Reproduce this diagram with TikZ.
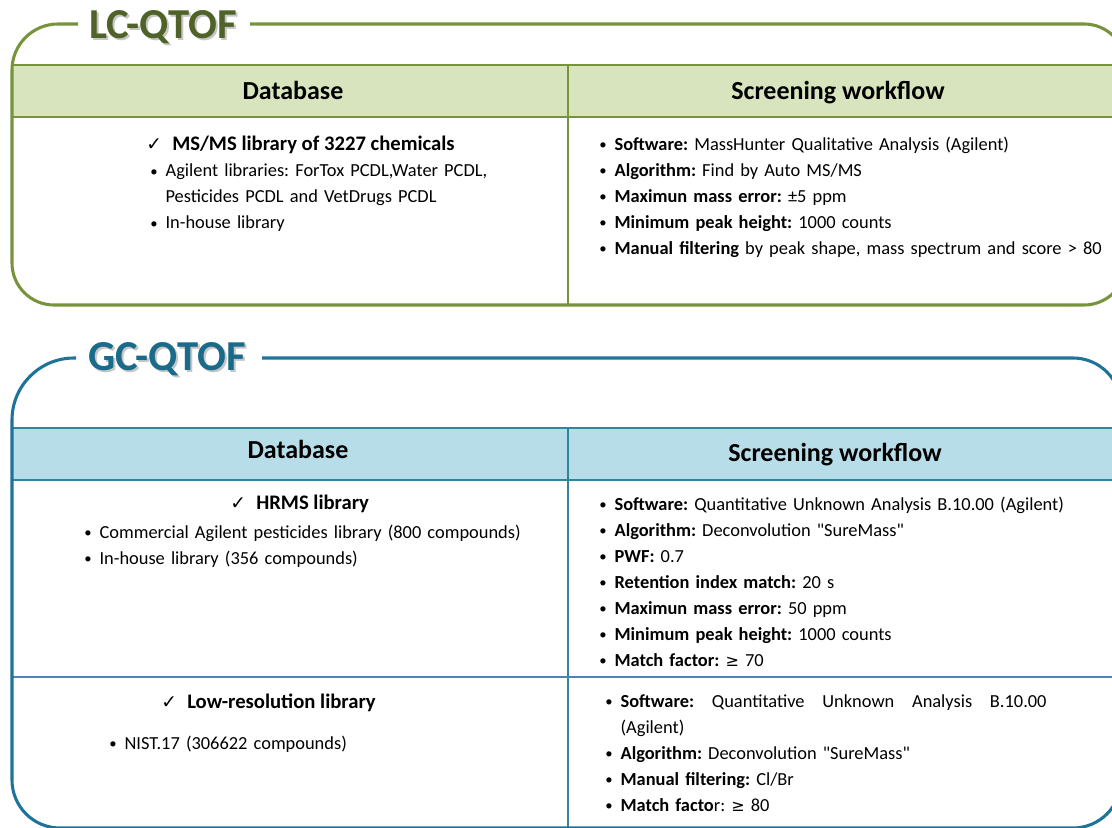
\documentclass[tikz,border=0pt]{standalone}
\usepackage{fontspec}
\setmainfont{Carlito}
\newfontfamily\symfont{DejaVu Sans}
\usetikzlibrary{positioning}
\frenchspacing

\definecolor{lcline}{HTML}{77933C}
\definecolor{lctitle}{HTML}{4F6228}
\definecolor{lchead}{HTML}{D7E4BD}
\definecolor{gcline}{HTML}{1D7399}
\definecolor{gctitle}{HTML}{1A6A8A}
\definecolor{gchead}{HTML}{B7DDE8}
\definecolor{gcrule}{HTML}{31849B}
\definecolor{gcsep}{HTML}{4F81BD}

\newcommand{\bul}{\makebox[11.5pt][l]{\raisebox{0.5pt}{\scalebox{0.8}{\textbullet}}}}
\newcommand{\chk}{\makebox[19.5pt][l]{\symfont\mdseries\fontsize{14}{16}\selectfont ✓}}
\newcommand{\geqs}{{\symfont\fontsize{12}{14}\selectfont ≥}}
\newcommand{\qt}{\textquotedbl}

\begin{document}
\begin{tikzpicture}[x=0.75pt, y=-0.75pt,
        boxline/.style={line width=2.3pt},
        rule/.style={line width=1.8pt},
        titletext/.style={inner sep=0, font=\fontsize{32}{38}\selectfont\bfseries},
        titleshade/.style={titletext, text=black!50, opacity=0.45},
        headtext/.style={inner sep=0, anchor=base, font=\fontsize{19.5}{23}\selectfont\bfseries},
        checkline/.style={inner sep=0, anchor=base west, font=\fontsize{15.5}{19}\selectfont\bfseries},
        itemlist/.style={inner sep=0, anchor=base west, text width=#1, align=left, font=\fontsize{13.8}{19.5}\selectfont}
    ]
    \useasboundingbox (0,0) rectangle (1112,827);
    \clip (0,0) rectangle (1112,827);

    % LC-QTOF
    \fill[lchead] (12,65) rectangle (1130,117);
    \draw[rule, lcline] (12,65) -- (1130,65) (12,117) -- (1130,117) (568,65) -- (568,305);
    \draw[boxline, lcline] (250,24) [rounded corners=31.5pt] -- (1126,24) -- (1126,305) -- (12,305) [rounded corners=34.5pt] -- (12,24) -- (78,24);
    \node[titleshade] (lcshade) at (165,29) {LC-QTOF};
    \node[titletext, text=lctitle] (lctitle) at (163,27) {LC-QTOF};
    \node[headtext] (lcdb) at (293,100) {Database};
    \node[headtext] (lcwf) at (838,100) {Screening workflow};
    \node[checkline] (lcpick) at (146,151) {\chk MS/MS library of 3227 chemicals};
    \node[itemlist=320pt] (lclibs) at (150,177) {\bul Agilent libraries: ForTox PCDL,Water PCDL,\\\hspace*{11.5pt}Pesticides PCDL and VetDrugs PCDL\\\bul In-house library};
    \node[itemlist=380pt] (lcsteps) at (599,150.5) {\bul\textbf{Software:} MassHunter Qualitative Analysis (Agilent)\\\bul\textbf{Algorithm:} Find by Auto MS/MS\\\bul\textbf{Maximun mass error:} ±5 ppm\\\bul\textbf{Minimum peak height:} 1000 counts\\\bul\textbf{Manual filtering} by peak shape, mass spectrum and score > 80};

    % GC-QTOF
    \fill[gchead] (12,428) rectangle (1130,480);
    \draw[rule, gcrule] (12,428) -- (1130,428) (12,480) -- (1130,480) (568,428) -- (568,840);
    \draw[rule, gcsep] (12,677) -- (1130,677);
    \draw[boxline, gcline] (262,358) [rounded corners=36pt] -- (1121,358) -- (1121,828) -- (12,828) [rounded corners=46.5pt] -- (12,358) -- (76,358);
    \node[titleshade] (gcshade) at (169,361) {GC-QTOF};
    \node[titletext, text=gctitle] (gctitle) at (167,359) {GC-QTOF};
    \node[headtext] (gcdb) at (298,458) {Database};
    \node[headtext] (gcwf) at (835,461) {Screening workflow};
    \node[checkline] (gchrms) at (230,509) {\chk HRMS library};
    \node[itemlist=340pt] (gchrmslibs) at (84,538.5) {\bul Commercial Agilent pesticides library (800 compounds)\\\bul In-house library (356 compounds)};
    \node[itemlist=380pt] (gchrmssteps) at (599,510.5) {\bul\textbf{Software:} Quantitative Unknown Analysis B.10.00 (Agilent)\\\bul\textbf{Algorithm:} Deconvolution \qt SureMass\qt\\\bul\textbf{PWF:} 0.7\\\bul\textbf{Retention index match:} 20 s\\\bul\textbf{Maximun mass error:} 50 ppm\\\bul\textbf{Minimum peak height:} 1000 counts\\\bul\textbf{Match factor:} \geqs{} 70};
    \node[checkline] (gclow) at (161,708) {\chk Low-resolution library};
    \node[itemlist=250pt] (gclowlibs) at (109,749.5) {\bul NIST.17 (306622 compounds)};
    \node[itemlist=380pt] (gclowsteps) at (605,707.5) {\bul\makebox[319.5pt][l]{\textbf{Software:}\hfill Quantitative\hfill Unknown\hfill Analysis\hfill B.10.00}\\\hspace*{11.5pt}(Agilent)\\\bul\textbf{Algorithm:} Deconvolution \qt SureMass\qt\\\bul\textbf{Manual filtering:} Cl/Br\\\bul\textbf{Match facto}r: \geqs{} 80};
\end{tikzpicture}
\end{document}
